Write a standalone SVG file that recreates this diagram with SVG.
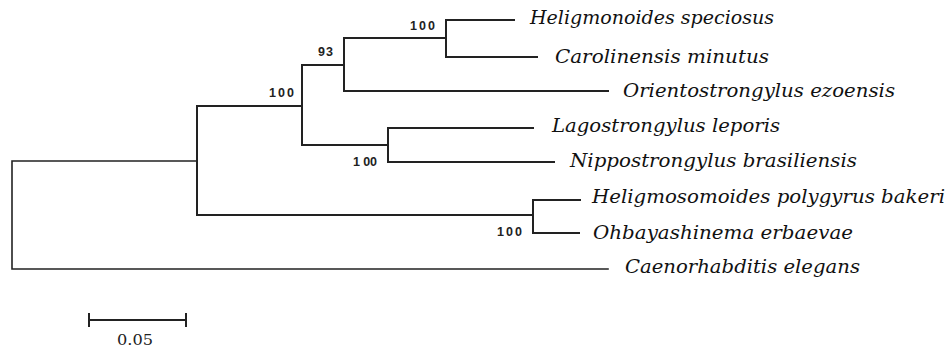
<svg xmlns="http://www.w3.org/2000/svg" width="950" height="350" viewBox="0 0 950 350">
<style>
.br{fill:none;stroke:#222;stroke-width:2;stroke-linecap:square}
.thin{stroke-width:1.6}
.tx{font-family:"DejaVu Serif","Liberation Serif",serif;font-style:italic;font-size:18px;fill:#111}
.bs{font-family:"Liberation Sans",Arial,sans-serif;font-weight:bold;font-size:12.5px;fill:#222}
.sc{font-family:"DejaVu Serif","Liberation Serif",serif;font-size:14px;fill:#222}
</style>
<rect width="950" height="350" fill="#fff"/>
<g id="connectors">
<path class="br thin" d="M197,161 H12 V269 H608"/>
<path class="br" d="M302,106 H197 V215 H533"/>
<path class="br" d="M344,65 H302 V145 H388"/>
<path class="br" d="M446,38 H344 V91 H608"/>
<path class="br" d="M514,20 H446 V57 H537"/>
<path class="br" d="M533,128 H388 V162 H554"/>
<path class="br" d="M580,200 H533 V233 H579"/>
</g>
<g id="bootstrap">
<text class="bs" x="410" y="30" textLength="25">100</text>
<text class="bs" x="318" y="56" textLength="15">93</text>
<text class="bs" x="269" y="97" textLength="25">100</text>
<text class="bs" x="353" y="166" textLength="24">1 00</text>
<text class="bs" x="497" y="236" textLength="25">100</text>
</g>
<g id="n1"><text class="tx" x="530" y="24" textLength="244" lengthAdjust="spacingAndGlyphs">Heligmonoides speciosus</text></g>
<g id="n2"><text class="tx" x="555" y="63" textLength="214" lengthAdjust="spacingAndGlyphs">Carolinensis minutus</text></g>
<g id="n3"><text class="tx" x="623" y="97" textLength="272" lengthAdjust="spacingAndGlyphs">Orientostrongylus ezoensis</text></g>
<g id="n4"><text class="tx" x="552" y="132" textLength="228" lengthAdjust="spacingAndGlyphs">Lagostrongylus leporis</text></g>
<g id="n5"><text class="tx" x="570" y="167" textLength="287" lengthAdjust="spacingAndGlyphs">Nippostrongylus brasiliensis</text></g>
<g id="n6"><text class="tx" x="592" y="203" textLength="353" lengthAdjust="spacingAndGlyphs">Heligmosomoides polygyrus bakeri</text></g>
<g id="n7"><text class="tx" x="593" y="239" textLength="260" lengthAdjust="spacingAndGlyphs">Ohbayashinema erbaevae</text></g>
<g id="n8"><text class="tx" x="625" y="273" textLength="235" lengthAdjust="spacingAndGlyphs">Caenorhabditis elegans</text></g>
<g id="scale">
<path class="br" d="M89,320 H186 M89,314 V326 M186,314 V326"/>
<text class="sc" x="117" y="345" textLength="36" lengthAdjust="spacingAndGlyphs">0.05</text>
</g>
</svg>
